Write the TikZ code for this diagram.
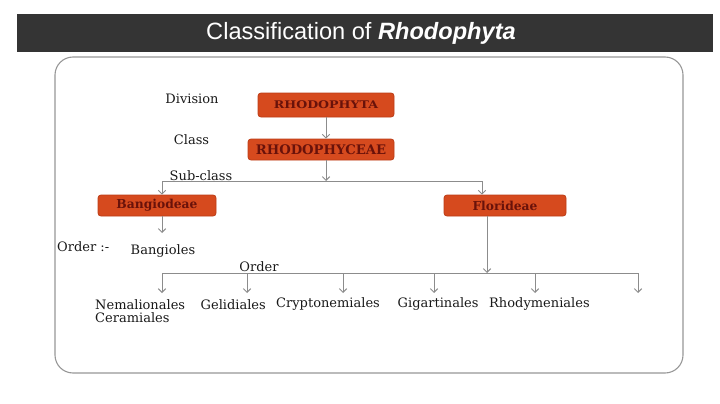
\documentclass[tikz,border=0pt]{standalone}
\usepackage{fontspec}
\usepackage{graphicx}
\setmainfont{DejaVu Serif}
\setsansfont{Liberation Sans}
\usetikzlibrary{positioning,arrows.meta}
\definecolor{rhodo}{RGB}{214,74,30}
\definecolor{rhodoline}{RGB}{188,60,22}
\definecolor{rhodotext}{RGB}{105,18,10}
\definecolor{linkgray}{RGB}{140,140,140}
\definecolor{bargray}{RGB}{52,52,52}
\tikzset{
  taxon/.style ={draw=rhodoline, fill=rhodo, rounded corners=3pt, line width=0.8pt,
                 text=rhodotext, inner sep=0pt, font=\bfseries\fontsize{12.3}{14}\selectfont},
  rank/.style  ={text=black!90, inner sep=0pt, font=\fontsize{13}{15}\selectfont},
  link/.style  ={draw=linkgray, line width=0.9pt},
  fl/.style    ={link, -{Straight Barb[length=1.3mm,width=2.6mm]}},
  frame/.style ={draw=linkgray!90, line width=1.1pt, rounded corners=18pt}
}

\begin{document}
\begin{tikzpicture}[x=1pt,y=-1pt]
  \useasboundingbox (0,0) rectangle (720,404);
  \fill[bargray](17,14) rectangle (713,52);
  \node[text=white, font=\sffamily\fontsize{23.6}{26}\selectfont](title) at (361,33)
       {Classification of \textbf{\textit{Rhodophyta}}};
  \draw[frame](55,57) rectangle (683,373);

  % taxa
  \node[taxon, minimum width=136pt, minimum height=24pt](phyta) at (326,105)
       {\fontsize{10.5}{12}\selectfont\scalebox{1.2}[1]{RHODOPHYTA}\hspace{12pt}};
  \node[taxon, minimum width=146pt, minimum height=21pt](phyceae) at (321,149.5)
       {\fontsize{13.2}{15}\selectfont RHODOPHYCEAE};
  \node[taxon, minimum width=118pt, minimum height=21pt](bang) at (157,205.5)
       {Bangiodeae\hspace{14pt}};
  \node[taxon, minimum width=122pt, minimum height=21pt](flor) at (505,205.5)
       {Florideae};

  % ranks
  \node[rank](division) at (192,99){Division};
  \node[rank](class) at (191.5,139.5){Class};
  \node[rank](subclass) at (201,175.5){Sub-class};
  \node[rank, anchor=west](orderb) at (57,247){Order :-};
  \node[rank](bangioles) at (163,251){Bangioles};
  \node[rank](orderf) at (259,267){Order};

  % orders of Florideae
  \node[rank, anchor=west](nem) at (95,304.5){Nemalionales};
  \node[rank, anchor=west](cer) at (95,318){Ceramiales};
  \node[rank, anchor=west](gel) at (200.5,304.5){Gelidiales};
  \node[rank, anchor=west](cry) at (276,304.5){Cryptonemiales};
  \node[rank, anchor=west](gig) at (397.5,304.5){Gigartinales};
  \node[rank, anchor=west](rhm) at (489,304.5){Rhodymeniales};

  \coordinate (split) at (326,181);
  \coordinate (bangend) at (162,233);
  \coordinate (ordl) at (162,273);
  \coordinate (ordr) at (638,273);
  \coordinate (ordsplit) at (487,273);
  \foreach \x [count=\i] in {162,247,343,434,535,638}
    \coordinate (drop\i) at (\x,293);

  \draw[fl](phyta.south) -- (phyta.south |- phyceae.north);
  \draw[fl](phyceae.south -| split) -- (split);
  \draw[fl](split) -| ([xshift=5pt]bang.north);
  \draw[fl](split) -| ([xshift=-23pt]flor.north);
  \draw[fl]([xshift=5pt]bang.south) -- (bangend);
  \draw[fl]([xshift=-18pt]flor.south) -- (ordsplit);
  \draw[link](ordl) -- (ordr);
  \foreach \i in {1,...,6}
    \draw[fl](drop\i |- ordl) -- (drop\i);
\end{tikzpicture}
\end{document}
